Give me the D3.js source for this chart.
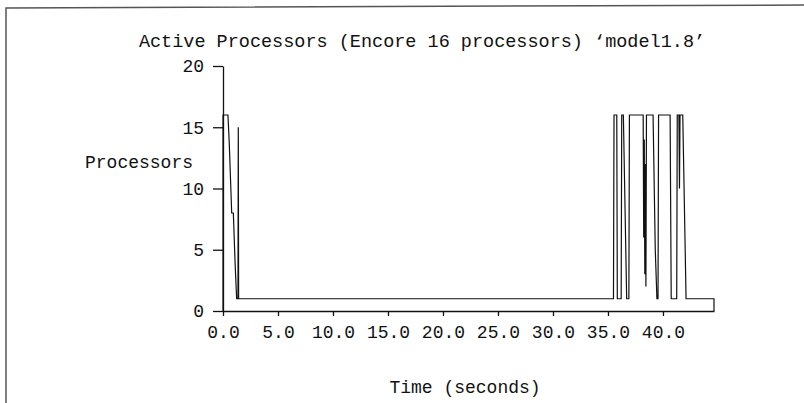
<!DOCTYPE html>
<html>
<head>
<meta charset="utf-8">
<script src="https://cdn.jsdelivr.net/npm/d3@7"></script>
<style>
  body { margin: 0; background: #fff; }
  text { font-family: "Courier New", "Liberation Mono", monospace; fill: #111; }
</style>
</head>
<body>
<script>
// time (seconds) and active processor count
let times = [0, 0, 0.45, 0.57, 0.79, 0.94, 1.1, 1.24, 1.36, 1.39, 1.42,
    35.5, 35.55, 35.8, 35.85, 36.2, 36.25, 36.4, 36.7, 36.9, 36.95,
    38.2, 38.25, 38.3, 38.35, 38.4, 38.45, 38.5, 39.1, 39.3, 39.45, 39.55, 39.6,
    40.65, 40.75, 41.25, 41.3, 41.45, 41.5, 41.55, 41.8, 42.1, 44.64, 44.64];
let procs = [0, 16, 16, 13.7, 8, 8, 3.9, 1, 1, 15, 1,
    1, 16, 16, 1, 1, 16, 16, 1, 1, 16,
    16, 6, 14, 3, 12, 2, 16, 16, 5, 1, 1, 16,
    16, 1, 1, 16, 16, 10, 16, 16, 1, 1, 0];

let xTicks = [0, 5, 10, 15, 20, 25, 30, 35, 40];
let yTicks = [0, 5, 10, 15, 20];
let titleText = "Active Processors (Encore 16 processors) \u2018model1.8\u2019";

let data = times.map((t, i) => ({t: t, p: procs[i]}));

let svg = d3.select("body").append("svg").attr("width", 804).attr("height", 403);

// scanned page edge
svg.append("path")
    .attr("d", "M6,403 L6,8 L804,5")
    .attr("fill", "none")
    .attr("stroke", "#555")
    .attr("stroke-width", 1.5);

let x = d3.scaleLinear().domain([0, 44.64]).range([223, 714]);
let y = d3.scaleLinear().domain([0, 20]).range([311, 66]);

let xAxis = svg.append("g")
    .attr("transform", "translate(0,311)")
    .call(d3.axisBottom(x).tickValues(xTicks).tickFormat(d3.format(".1f")).tickSize(5).tickSizeOuter(0).tickPadding(9));

let yAxis = svg.append("g")
    .attr("transform", "translate(223,0)")
    .call(d3.axisLeft(y).tickValues(yTicks).tickFormat(d3.format("d")).tickSize(10).tickSizeOuter(0).tickPadding(9));

[xAxis, yAxis].forEach(g => {
    g.selectAll("path, line").attr("stroke", "#111").attr("stroke-width", 1.3);
    g.selectAll("text").style("font-size", "18px").attr("fill", "#111");
});

/* the trace is drawn as straight segments between the read points */
let line = d3.line()
    .x(d => x(d.t))
    .y(d => y(d.p));

svg.append("path")
    .attr("d", line(data))
    .attr("fill", "none")
    .attr("stroke", "#111")
    .attr("stroke-width", 1.2);

svg.append("text")
    .attr("x", 422).attr("y", 47)
    .attr("text-anchor", "middle")
    .style("font-size", "18.5px")
    .text(titleText);

svg.append("text")
    .attr("x", 85).attr("y", 168)
    .style("font-size", "18px")
    .text("Processors");

svg.append("text")
    .attr("x", 465).attr("y", 393)
    .attr("text-anchor", "middle")
    .style("font-size", "18px")
    .text("Time (seconds)");
</script>
</body>
</html>
